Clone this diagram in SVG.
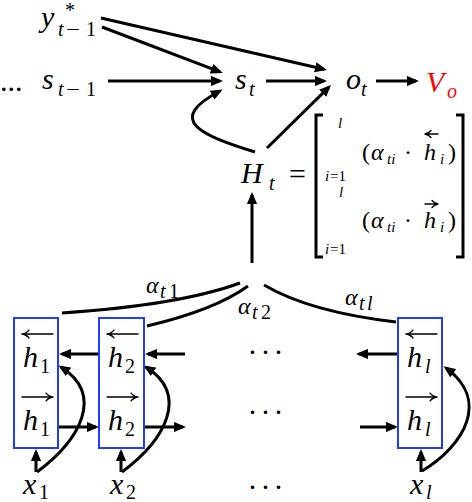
<svg xmlns="http://www.w3.org/2000/svg" width="472" height="502" viewBox="0 0 472 502">
<defs>
<style>
.i{font-style:italic}
.big{font-size:30px}
.mid{font-size:24px}
.sub{font-size:20px}
.sm{font-size:15px}
.c{stroke:#000;stroke-width:3;fill:none}
.box{fill:none;stroke:#1f3cff;stroke-width:2}
.ov{stroke:#000;stroke-width:1.3;fill:none;stroke-linecap:round}
.red{fill:#ff0000}
</style>
<marker id="ah" markerWidth="4" markerHeight="3.4" refX="3" refY="1.7" orient="auto" markerUnits="strokeWidth">
<path d="M0,0 L4,1.7 L0,3.4 z" fill="#000"/>
</marker>
</defs>
<rect width="472" height="502" fill="#fff"/>

<g id="connectors">
<line class="c" x1="101" y1="18" x2="324" y2="69.3" marker-end="url(#ah)"/>
<line class="c" x1="102" y1="27" x2="220" y2="71.9" marker-end="url(#ah)"/>
<line class="c" x1="108" y1="81" x2="220" y2="81" marker-end="url(#ah)"/>
<line class="c" x1="266" y1="81" x2="324" y2="81" marker-end="url(#ah)"/>
<line class="c" x1="376" y1="81" x2="416" y2="81" marker-end="url(#ah)"/>
<line class="c" x1="267" y1="148" x2="328.9" y2="87.1" marker-end="url(#ah)"/>
<path class="c" d="M255,152 C200,135 165,120 220,91" marker-end="url(#ah)"/>
<line class="c" x1="252" y1="263" x2="252" y2="195" marker-end="url(#ah)"/>
<path class="c" d="M62,313 Q180,305 240,283"/>
<path class="c" d="M147,326 Q215,310 248,286"/>
<path class="c" d="M264,285 Q310,312 396,322"/>
<line class="c" x1="99" y1="354" x2="62" y2="354" marker-end="url(#ah)"/>
<line class="c" x1="58" y1="427" x2="96" y2="427" marker-end="url(#ah)"/>
<line class="c" x1="185" y1="354" x2="148" y2="354" marker-end="url(#ah)"/>
<line class="c" x1="144" y1="427" x2="183" y2="427" marker-end="url(#ah)"/>
<line class="c" x1="397" y1="354" x2="359" y2="354" marker-end="url(#ah)"/>
<line class="c" x1="360" y1="427" x2="395" y2="427" marker-end="url(#ah)"/>
<line class="c" x1="36" y1="472" x2="36" y2="452" marker-end="url(#ah)"/>
<line class="c" x1="121" y1="472" x2="121" y2="452" marker-end="url(#ah)"/>
<line class="c" x1="421" y1="472" x2="421" y2="452" marker-end="url(#ah)"/>
<path class="c" d="M37,472 C80,440 105,395 61,367" marker-end="url(#ah)"/>
<path class="c" d="M122,472 C165,440 190,395 146,367" marker-end="url(#ah)"/>
<path class="c" d="M422,471 C465,445 490,400 446,368" marker-end="url(#ah)"/>
</g>

<g font-family="Liberation Serif, serif" fill="#000">
<g id="y-prev">
<text class="i big" x="41" y="27">y</text>
<text class="sub" x="65" y="17">*</text>
<text class="i sub" x="58" y="36">t</text>
<text class="sub" x="66" y="36" textLength="14" lengthAdjust="spacingAndGlyphs">−</text>
<text class="sub" x="86" y="36">1</text>
</g>
<g id="dots-top"><text class="big" x="0" y="91">...</text></g>
<g id="s-prev">
<text class="i big" x="42" y="89">s</text>
<text class="i sub" x="58" y="96">t</text>
<text class="sub" x="66" y="96" textLength="14" lengthAdjust="spacingAndGlyphs">−</text>
<text class="sub" x="86" y="96">1</text>
</g>
<g id="s-t">
<text class="i big" x="235" y="89">s</text>
<text class="i sub" x="249" y="96">t</text>
</g>
<g id="o-t">
<text class="i big" x="346" y="89">o</text>
<text class="i sub" x="361" y="96">t</text>
</g>
<g id="V-o">
<text class="i big red" x="426" y="92">V</text>
<text class="i sub red" x="447" y="98">o</text>
</g>
<g id="H-t">
<text class="i big" x="241" y="183">H</text>
<text class="i sub" x="269" y="190">t</text>
<text class="big" x="289" y="184">=</text>
</g>
<g id="matrix">
<path class="c" stroke-width="2.5" d="M323,115 H316 V257 H323"/>
<path class="c" stroke-width="2.5" d="M456,115 H463 V257 H456"/>
<text class="i sm" x="338" y="128">l</text>
<text class="mid" x="362" y="160">(</text>
<text class="i mid" x="371" y="160">α</text>
<text class="i sm" x="387" y="164">ti</text>
<text class="mid" x="404" y="160">·</text>
<text class="i mid" x="424" y="160">h</text>
<path class="ov" d="M438,134 H425 M425,134 Q429,133 431,130.5 M425,134 Q429,135 431,137.5"/>
<text class="i sm" x="440" y="164">i</text>
<text class="mid" x="448" y="160">)</text>
<text class="i sm" x="325" y="181">i</text>
<text class="sm" x="330" y="181">=1</text>
<text class="i sm" x="339" y="197">l</text>
<text class="mid" x="362" y="228">(</text>
<text class="i mid" x="371" y="228">α</text>
<text class="i sm" x="387" y="232">ti</text>
<text class="mid" x="404" y="228">·</text>
<text class="i mid" x="424" y="228">h</text>
<path class="ov" d="M425,204 H438 M438,204 Q434,203 432,200.5 M438,204 Q434,205 432,207.5"/>
<text class="i sm" x="440" y="232">i</text>
<text class="mid" x="448" y="228">)</text>
<text class="i sm" x="325" y="254">i</text>
<text class="sm" x="330" y="254">=1</text>
</g>
<g id="alpha-labels">
<text class="i mid" x="146" y="293">α</text>
<text class="i sub" x="160" y="298">t</text>
<text class="sub" x="169" y="298">1</text>
<text class="i mid" x="238" y="314">α</text>
<text class="i sub" x="252" y="319">t</text>
<text class="sub" x="261" y="319">2</text>
<text class="i mid" x="345" y="305">α</text>
<text class="i sub" x="359" y="310">t</text>
<text class="i sub" x="367" y="310">l</text>
</g>
<g id="h1">
<rect class="box" x="14" y="318" width="44" height="130"/>
<path class="ov" d="M53,334 H22 M22,334 Q27,333 29,330 M22,334 Q27,335 29,338"/>
<text class="i big" x="23" y="367">h</text>
<text class="sub" x="40" y="373">1</text>
<path class="ov" d="M22,397 H53 M53,397 Q48,396 46,393 M53,397 Q48,398 46,401"/>
<text class="i big" x="23" y="430">h</text>
<text class="sub" x="40" y="436">1</text>
</g>
<g id="h2">
<rect class="box" x="99" y="318" width="45" height="130"/>
<path class="ov" d="M138,334 H107 M107,334 Q112,333 114,330 M107,334 Q112,335 114,338"/>
<text class="i big" x="108" y="367">h</text>
<text class="sub" x="125" y="373">2</text>
<path class="ov" d="M107,397 H138 M138,397 Q133,396 131,393 M138,397 Q133,398 131,401"/>
<text class="i big" x="108" y="430">h</text>
<text class="sub" x="125" y="436">2</text>
</g>
<g id="hl">
<rect class="box" x="398" y="318" width="44" height="130"/>
<path class="ov" d="M437,334 H406 M406,334 Q411,333 413,330 M406,334 Q411,335 413,338"/>
<text class="i big" x="407" y="367">h</text>
<text class="i sub" x="425" y="373">l</text>
<path class="ov" d="M406,397 H437 M437,397 Q432,396 430,393 M437,397 Q432,398 430,401"/>
<text class="i big" x="407" y="430">h</text>
<text class="i sub" x="425" y="436">l</text>
</g>
<g id="dots-mid">
<text class="big" x="267" y="362" text-anchor="middle" letter-spacing="3">···</text>
<text class="big" x="267" y="422" text-anchor="middle" letter-spacing="3">···</text>
<text class="big" x="267" y="497" text-anchor="middle" letter-spacing="3">···</text>
</g>
<g id="x1"><text class="i big" x="23" y="494">x</text><text class="sub" x="39" y="499">1</text></g>
<g id="x2"><text class="i big" x="110" y="494">x</text><text class="sub" x="126" y="499">2</text></g>
<g id="xl"><text class="i big" x="410" y="494">x</text><text class="i sub" x="426" y="499">l</text></g>
</g>
</svg>
